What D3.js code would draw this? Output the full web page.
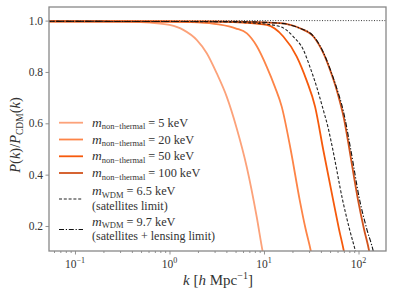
<!DOCTYPE html>
<html>
<head>
<meta charset="utf-8">
<script src="https://cdn.jsdelivr.net/npm/d3@7"></script>
<style>
  body { margin: 0; background: #fff; }
  svg text { font-family: "Liberation Serif", "DejaVu Serif", serif; fill: #333; }
</style>
</head>
<body>
<div id="chart"></div>
<script>
// values (k in h/Mpc, ratio P/P_CDM)
const kNT5 = [0.05, 0.3, 0.62, 1.0, 1.4, 1.94, 2.48, 3.16, 4.03, 5.14, 6.56, 8.37, 9.69, 10.6];
const pNT5 = [0.997, 0.996, 0.992, 0.983, 0.964, 0.925, 0.873, 0.795, 0.704, 0.581, 0.431, 0.236, 0.1, 0.03];

const kNT20 = [0.05, 1.0, 2.0, 3.3, 5.0, 6.6, 8.4, 10.7, 13.1, 15.4, 19.1, 23.9, 27.5, 31.4, 34];
const pNT20 = [0.997, 0.996, 0.993, 0.985, 0.97, 0.95, 0.90, 0.82, 0.74, 0.665, 0.50, 0.30, 0.19, 0.10, 0.03];

const kNT50 = [0.05, 3, 6, 10.7, 16.0, 22.2, 28.1, 34.7, 42.4, 54, 62, 70.2, 76];
const pNT50 = [0.997, 0.996, 0.992, 0.983, 0.938, 0.86, 0.769, 0.665, 0.496, 0.30, 0.19, 0.10, 0.03];

const kNT100 = [0.05, 5, 14.7, 24.0, 33.3, 42.5, 50.0, 58.8, 64, 70, 75, 80, 99, 114, 130, 140];
const pNT100 = [0.997, 0.996, 0.99, 0.97, 0.938, 0.873, 0.808, 0.73, 0.68, 0.62, 0.56, 0.50, 0.30, 0.19, 0.10, 0.03];

const kWDM65 = [0.05, 3, 8, 14.7, 20.4, 26.1, 30.6, 36.0, 42.4, 47.9, 53.3, 68, 80, 93, 100];
const pWDM65 = [0.997, 0.996, 0.99, 0.977, 0.938, 0.886, 0.82, 0.743, 0.652, 0.58, 0.5, 0.3, 0.19, 0.1, 0.05];

const kWDM97 = [0.05, 5, 14.7, 24, 33.3, 42.5, 50, 58.8, 69.1, 82.6, 103, 122, 143.6, 155];
const pWDM97 = [0.997, 0.996, 0.99, 0.97, 0.94, 0.876, 0.812, 0.737, 0.648, 0.5, 0.3, 0.19, 0.1, 0.04];

const yTicks = [0.2, 0.4, 0.6, 0.8, 1.0];
const xTicks = [0.1, 1, 10, 100];
const xTickExp = ["\u22121", "0", "1", "2"];

const series = [
  { name: "5 keV", kind: "nt", k: kNT5, p: pNT5, color: "#fca27a", width: 1.8, dash: null },
  { name: "20 keV", kind: "nt", k: kNT20, p: pNT20, color: "#fd8447", width: 1.8, dash: null },
  { name: "50 keV", kind: "nt", k: kNT50, p: pNT50, color: "#f65a0c", width: 1.8, dash: null },
  { name: "100 keV", kind: "nt", k: kNT100, p: pNT100, color: "#d2531c", width: 1.8, dash: null },
  { name: "6.5 keV", kind: "wdm", note: "(satellites limit)", k: kWDM65, p: pWDM65, color: "#222", width: 1.1, dash: "3,1.8" },
  { name: "9.7 keV", kind: "wdm", note: "(satellites + lensing limit)", k: kWDM97, p: pWDM97, color: "#111", width: 1.1, dash: "5,1.8,1.2,1.8" }
];

const width = 395, height = 296;
const mLeft = 49, mRight = 386, mTop = 7, mBottom = 251;

const svg = d3.select("#chart").append("svg")
  .attr("width", width).attr("height", height);

const x = d3.scaleLog().domain([0.0531, 195.4]).range([mLeft, mRight]);
const y = d3.scaleLinear().domain([0.1026, 1.053]).range([mBottom, mTop]);

svg.append("clipPath").attr("id", "clip")
  .append("rect").attr("x", mLeft).attr("y", mTop)
  .attr("width", mRight - mLeft).attr("height", mBottom - mTop);

const plot = svg.append("g").attr("clip-path", "url(#clip)");

// reference line at 1
plot.append("line")
  .attr("x1", mLeft).attr("x2", mRight)
  .attr("y1", y(1)).attr("y2", y(1))
  .attr("stroke", "#222").attr("stroke-width", 0.9)
  .attr("stroke-dasharray", "1,1.6");

const line = d3.line()
  .x(d => x(d[0])).y(d => y(d[1]))
  .curve(d3.curveMonotoneX);

series.forEach(s => {
  plot.append("path")
    .datum(s.k.map((k, i) => [k, s.p[i]]))
    .attr("d", line)
    .attr("fill", "none")
    .attr("stroke", s.color)
    .attr("stroke-width", s.width)
    .attr("stroke-dasharray", s.dash);
});

// axes
svg.append("g").attr("transform", `translate(0,${mBottom})`)
  .call(d3.axisBottom(x).tickValues(xTicks).tickFormat("").tickSize(3.5));
const minor = [];
for (let e = -2; e <= 2; e++) for (let m = 2; m <= 9; m++) {
  const v = m * Math.pow(10, e);
  if (v > 0.0531 && v < 195.4) minor.push(v);
}
svg.append("g").attr("transform", `translate(0,${mBottom})`)
  .call(d3.axisBottom(x).tickValues(minor).tickFormat("").tickSize(2));
svg.append("g").attr("transform", `translate(${mLeft},0)`)
  .call(d3.axisLeft(y).tickValues(yTicks).tickFormat("").tickSize(3.5));

svg.selectAll(".domain").remove();
svg.selectAll(".tick line").attr("stroke", "#777").attr("stroke-width", 0.8);

// frame
svg.append("rect")
  .attr("x", mLeft).attr("y", mTop)
  .attr("width", mRight - mLeft).attr("height", mBottom - mTop)
  .attr("fill", "none").attr("stroke", "#888").attr("stroke-width", 1.3);

// tick labels
yTicks.forEach(v => {
  svg.append("text")
    .attr("x", mLeft - 6).attr("y", y(v) + 4)
    .attr("text-anchor", "end").attr("font-size", 11.5)
    .text(d3.format(".1f")(v));
});
xTicks.forEach((v, i) => {
  const t = svg.append("text")
    .attr("x", x(v)).attr("y", mBottom + 17)
    .attr("text-anchor", "middle").attr("font-size", 11.5);
  t.append("tspan").text("10");
  t.append("tspan").attr("dy", -5).attr("font-size", 8).text(xTickExp[i]);
});

// axis labels
const xl = svg.append("text")
  .attr("x", 218).attr("y", 285)
  .attr("text-anchor", "middle").attr("font-size", 15);
xl.append("tspan").attr("font-style", "italic").text("k");
xl.append("tspan").text(" [");
xl.append("tspan").attr("font-style", "italic").text("h");
xl.append("tspan").text(" Mpc");
xl.append("tspan").attr("dy", -6).attr("font-size", 10).text("\u22121");
xl.append("tspan").attr("dy", 6).text("]");

const yl = svg.append("text")
  .attr("transform", "translate(20,135) rotate(-90)")
  .attr("text-anchor", "middle").attr("font-size", 14.5);
yl.append("tspan").attr("font-style", "italic").text("P");
yl.append("tspan").text("(");
yl.append("tspan").attr("font-style", "italic").text("k");
yl.append("tspan").text(")/");
yl.append("tspan").attr("font-style", "italic").text("P");
yl.append("tspan").attr("dy", 3).attr("font-size", 9.5).text("CDM");
yl.append("tspan").attr("dy", -3).text("(");
yl.append("tspan").attr("font-style", "italic").text("k");
yl.append("tspan").text(")");

// legend
const legY = [122.7, 139.5, 156.3, 173, 197.5, 228];
series.forEach((s, i) => {
  const ly = legY[i];
  const lineY = s.kind === "wdm" ? ly + 1.5 : ly;
  svg.append("line")
    .attr("x1", 59).attr("x2", 83).attr("y1", lineY).attr("y2", lineY)
    .attr("stroke", s.color).attr("stroke-width", s.width)
    .attr("stroke-dasharray", s.dash);
  const ty = s.kind === "wdm" ? ly - 6.5 : ly;
  const t = svg.append("text").attr("x", 92).attr("y", ty + 4).attr("font-size", 12.3);
  t.append("tspan").attr("font-style", "italic").attr("font-size", 13.5).text("m");
  t.append("tspan").attr("dy", 2.5).attr("font-size", 8.5)
    .text(s.kind === "nt" ? "non\u2212thermal" : "WDM");
  t.append("tspan").attr("dy", -2.5).text(" = " + s.name);
  if (s.note) {
    svg.append("text").attr("x", 92).attr("y", ty + 18.5)
      .attr("font-size", 12).text(s.note);
  }
});
</script>
</body>
</html>
